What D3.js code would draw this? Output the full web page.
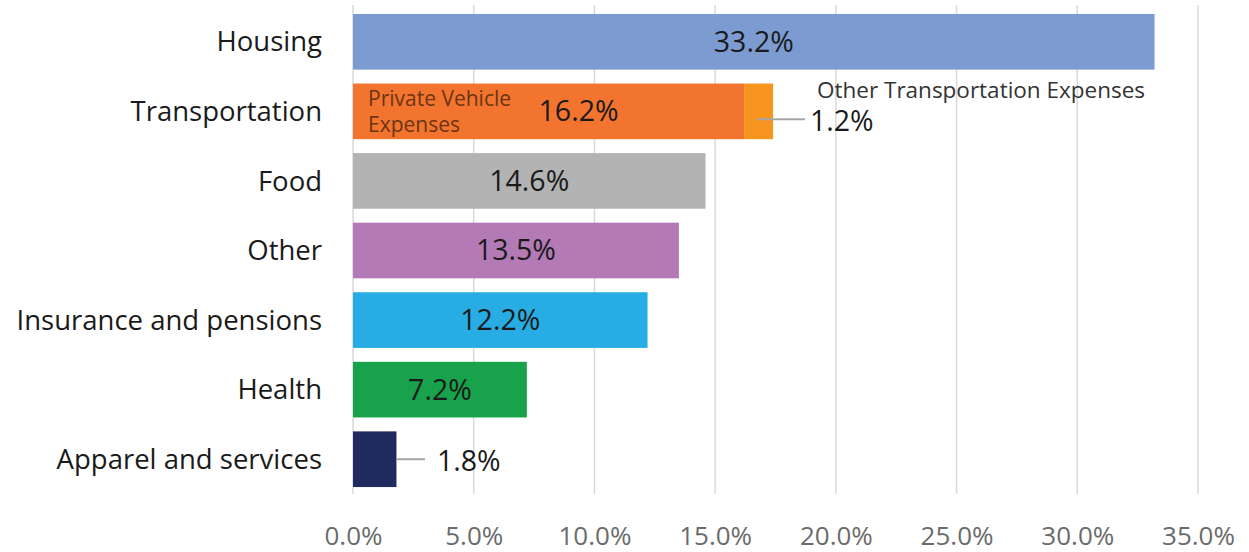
<!DOCTYPE html>
<html><head><meta charset="utf-8">
<script src="https://cdn.jsdelivr.net/npm/d3@7"></script>
<style>body{margin:0;background:#fff}svg{display:block;font-family:"Open Sans","Noto Sans",sans-serif}</style>
</head><body><svg id="c" width="1249" height="552"></svg>
<script>
const categories = ["Housing","Transportation","Food","Other","Insurance and pensions","Health","Apparel and services"];
const mainValues = [33.2,16.2,14.6,13.5,12.2,7.2,1.8];
const otherTransport = 1.2;
const colors = ["#7B9BD1","#F3742F","#B3B3B3","#B47AB5","#27ACE3","#17A24B","#1F2A5E"];
const ticks = [0,5,10,15,20,25,30,35];

const svg = d3.select("#c");
const x = d3.scaleLinear().domain([0,35]).range([353,1198]);
const y = d3.scaleBand().domain(categories).range([7,494]).paddingInner(0.2).paddingOuter(0.1);

// grid
svg.append("g").selectAll("line").data(ticks).join("line")
  .attr("x1",d=>x(d)).attr("x2",d=>x(d)).attr("y1",5).attr("y2",494)
  .attr("stroke","#d9d9d9").attr("stroke-width",1.5);

// axis labels
const ax = svg.append("g").attr("transform","translate(0,542)").call(d3.axisBottom(x).tickValues(ticks).tickFormat(d=>d.toFixed(1)+"%").tickSize(0));
ax.select(".domain").remove();
ax.selectAll("text").attr("font-size",26).attr("fill","#6b6b6b").attr("font-family","'Open Sans','Noto Sans',sans-serif").attr("dy","0");

// bars
svg.append("g").selectAll("rect").data(categories).join("rect")
  .attr("x",x(0)).attr("y",d=>y(d)).attr("height",y.bandwidth())
  .attr("width",(d,i)=>x(mainValues[i])-x(0)).attr("fill",(d,i)=>colors[i]);
// other transport segment
svg.append("rect").attr("x",x(mainValues[1])).attr("y",y("Transportation")).attr("height",y.bandwidth())
  .attr("width",x(mainValues[1]+otherTransport)-x(mainValues[1])).attr("fill","#F7951F");

// category labels
svg.append("g").selectAll("text").data(categories).join("text")
  .attr("x",322).attr("y",d=>y(d)+y.bandwidth()/2).attr("dy","0.35em")
  .attr("text-anchor","end").attr("font-size",27.5).attr("fill","#1a1a1a").text(d=>d);

// value labels inside
const inside = categories.map((c,i)=>({c,v:mainValues[i],i})).filter(d=>d.c!=="Apparel and services");
svg.append("g").selectAll("text").data(inside).join("text")
  .attr("x",d=>d.c==="Transportation"? x(d.v/2)+30 : x(d.v/2))
  .attr("y",d=>y(d.c)+y.bandwidth()/2).attr("dy","0.35em")
  .attr("text-anchor","middle").attr("font-size",28.5).attr("fill","#1a1a1a")
  .text(d=>d.v.toFixed(1)+"%");

// Private Vehicle Expenses
const ty = y("Transportation")+y.bandwidth()/2;
const pv = svg.append("text").attr("x",x(0)+15).attr("font-size",21).attr("fill","#6b3414");
pv.append("tspan").attr("x",x(0)+15).attr("y",ty-5).text("Private Vehicle");
pv.append("tspan").attr("x",x(0)+15).attr("y",ty+21).text("Expenses");

// callout other transport
svg.append("line").attr("x1",x(mainValues[1]+otherTransport/2)-2).attr("x2",805).attr("y1",ty+8).attr("y2",ty+8)
  .attr("stroke","#a6a6a6").attr("stroke-width",2);
svg.append("text").attr("x",810).attr("y",ty+10).attr("dy","0.35em").attr("font-size",28.5).attr("fill","#1a1a1a").text(otherTransport.toFixed(1)+"%");
svg.append("text").attr("x",817).attr("y",ty-13).attr("font-size",22.5).attr("fill","#333").text("Other Transportation Expenses");

// apparel callout
const ay = y("Apparel and services")+y.bandwidth()/2;
svg.append("line").attr("x1",x(mainValues[6])).attr("x2",425).attr("y1",ay).attr("y2",ay)
  .attr("stroke","#a6a6a6").attr("stroke-width",2);
svg.append("text").attr("x",437).attr("y",ay+2).attr("dy","0.35em").attr("font-size",28.5).attr("fill","#1a1a1a").text(mainValues[6].toFixed(1)+"%");
</script></body></html>
